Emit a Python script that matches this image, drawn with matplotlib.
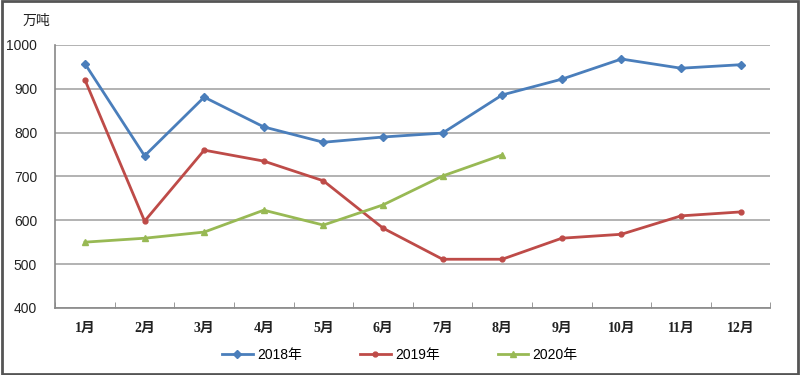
import numpy as np
import matplotlib
matplotlib.use('Agg')
from matplotlib import pyplot as plt
from matplotlib.patches import Rectangle

plt.rcParams['font.family'] = ['Liberation Sans', 'Noto Sans CJK SC']

months = ['1月', '2月', '3月', '4月', '5月', '6月', '7月', '8月', '9月', '10月', '11月', '12月']
y2018 = [957, 747, 881, 813, 778, 790, 799, 886, 922, 968, 947, 955]
y2019 = [920, 598, 760, 735, 690, 582, 511, 511, 559, 568, 610, 619]
y2020 = [550, 559, 573, 623, 589, 635, 701, 749]
yticks = [400, 500, 600, 700, 800, 900, 1000]

fig = plt.figure(figsize=(8, 3.75), dpi=100)
ax = fig.add_axes([0.069, 0.179, 0.894, 0.701])

x = np.arange(1, 13)
ax.plot(x, y2018, color='#4a7ebb', lw=2, marker='D', ms=4, label='2018年')
ax.plot(x, y2019, color='#be4b48', lw=2, marker='o', ms=3.5, label='2019年')
ax.plot(x[:len(y2020)], y2020, color='#98b954', lw=2, marker='^', ms=5, label='2020年')

ax.set_xlim(0.5, 12.5)
ax.set_ylim(400, 1000)
ax.set_yticks(yticks)
ax.set_yticklabels([str(v) for v in yticks], fontsize=10, color='#222222')
ax.set_xticks(x)
ax.set_xticklabels(months, fontsize=10, fontweight='bold', color='#222222',
                   family=['Liberation Serif', 'Noto Sans CJK SC'])
ax.set_xticks(np.arange(0.5, 13, 1), minor=True)
ax.tick_params(axis='x', which='major', length=0, pad=10)
ax.tick_params(axis='x', which='minor', length=4, color='#888888', direction='in')
ax.tick_params(axis='y', length=0, pad=13)

ax.grid(axis='y', color='#a6a6a6', lw=1.2)
ax.set_axisbelow(True)
for s in ['top', 'right']:
    ax.spines[s].set_visible(False)
for s in ['left', 'bottom']:
    ax.spines[s].set_color('#888888')
    ax.spines[s].set_linewidth(1.2)

fig.text(0.028, 0.945, '万吨', fontsize=10, ha='left', va='center', color='#222222',
         family=['Noto Sans CJK SC'])

ax.legend(loc='center', bbox_to_anchor=(0.482, -0.18), ncol=3, frameon=False,
          fontsize=10, handlelength=2.2, handletextpad=0.3, columnspacing=4.2)

fig.patches.append(Rectangle((0.002, 0.003), 0.996, 0.994, transform=fig.transFigure,
                             fill=False, edgecolor='#555555', lw=2))

fig.savefig('out.png', dpi=100)
